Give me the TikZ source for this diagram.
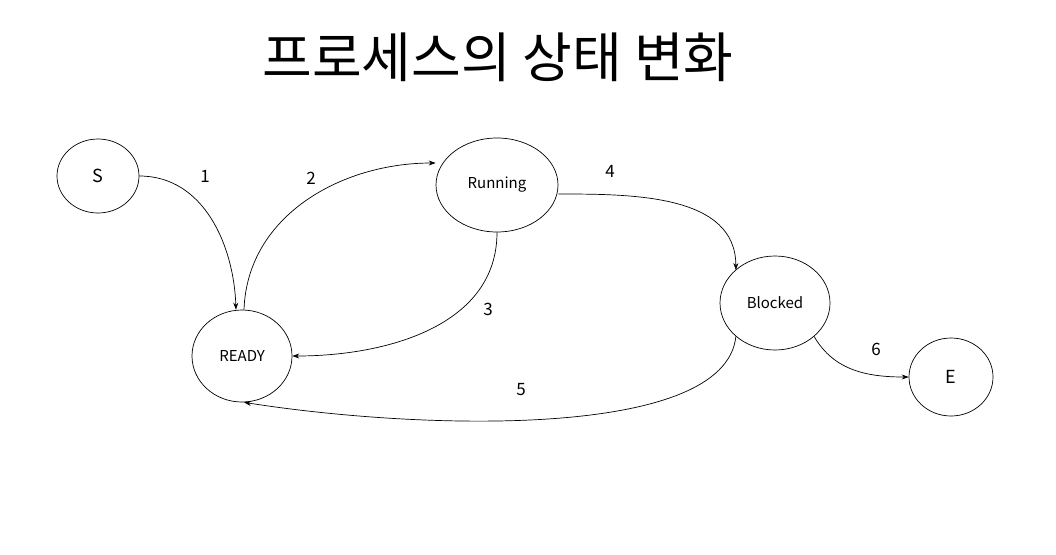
\documentclass[tikz,border=0pt]{standalone}
\usepackage{fontspec}
\setmainfont{Noto Sans CJK KR}
\usetikzlibrary{arrows.meta,shapes.geometric}
\begin{document}
\begin{tikzpicture}[x=1pt,y=-1pt,
  st/.style={draw,ellipse,inner sep=0pt,line width=0.7pt},
  ar/.style={-{Stealth[length=7pt,width=5pt]},line width=0.7pt},
  lb/.style={font=\fontsize{17}{17}\selectfont}]
\useasboundingbox (0,0) rectangle (1056,554);
\node at (498,57) {\fontsize{54}{54}\selectfont\addfontfeatures{FakeBold=0} 프로세스의 상태 변화};
\node[st,minimum width=82pt,minimum height=74pt,font=\fontsize{18}{18}\selectfont] (S) at (98,176) {S};
\node[st,minimum width=122pt,minimum height=94pt,font=\fontsize{15}{15}\selectfont] (R) at (497,185) {Running};
\node[st,minimum width=100pt,minimum height=92pt,font=\fontsize{15}{15}\selectfont] (Y) at (242,356) {READY};
\node[st,minimum width=110pt,minimum height=94pt,font=\fontsize{15}{15}\selectfont] (B) at (775,303) {Blocked};
\node[st,minimum width=84pt,minimum height=78pt,font=\fontsize{18}{18}\selectfont] (E) at (951,377) {E};
\draw[ar] (S.east) to[out=0,in=92] ([xshift=-6pt]Y.north);
\draw[ar] ([xshift=2pt]Y.north) to[out=88,in=180] (R.west |- 0,163);
\draw[ar] (R.south) to[out=270,in=0] (Y.east);
\draw[ar] ([yshift=-9pt]R.east) to[out=0,in=90] (B.north west |- 0,270) ;
\draw[ar] (B.south west) .. controls (725,440) and (420,430) .. ([xshift=2pt]Y.south);
\draw[ar] (B.south east) to[out=-60,in=180] (E.west);
\node[lb] (l1) at (205,176) {1};
\node[lb] (l2) at (311,178) {2};
\node[lb] (l3) at (488,309) {3};
\node[lb] (l4) at (610,171) {4};
\node[lb] (l5) at (521,390) {5};
\node[lb] (l6) at (876,349) {6};
\end{tikzpicture}
\end{document}
